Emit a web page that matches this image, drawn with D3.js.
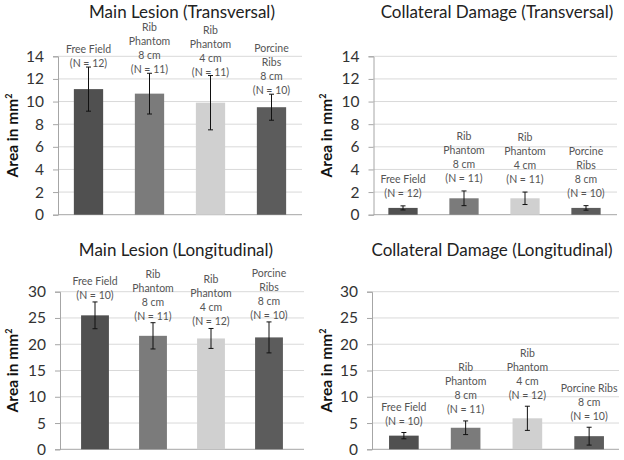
<!DOCTYPE html>
<html><head><meta charset="utf-8">
<script src="https://cdn.jsdelivr.net/npm/d3@7"></script>
<style>body{margin:0;background:#fff} svg{display:block}</style>
</head><body>
<svg id="c" width="624" height="460"></svg>
<script>
// ---- data ----
const titles = ["Main Lesion (Transversal)", "Collateral Damage (Transversal)",
                "Main Lesion (Longitudinal)", "Collateral Damage (Longitudinal)"];
const categories = ["Free Field", "Rib Phantom 8 cm", "Rib Phantom 4 cm", "Porcine Ribs 8 cm"];
const labelLinesA = [["Free Field"], ["Rib", "Phantom", "8 cm"], ["Rib", "Phantom", "4 cm"], ["Porcine", "Ribs", "8 cm"]];
const labelLinesB = [["Free Field"], ["Rib", "Phantom", "8 cm"], ["Rib", "Phantom", "4 cm"], ["Porcine Ribs", "8 cm"]];
const nTransversal = [12, 11, 11, 10];
const nLongitudinal = [10, 11, 12, 10];
const mainTransMean = [11.1, 10.7, 9.9, 9.5];
const mainTransErr  = [1.95, 1.8, 2.4, 1.15];
const collTransMean = [0.6, 1.45, 1.45, 0.6];
const collTransErr  = [0.18, 0.65, 0.55, 0.2];
const mainLongMean  = [25.5, 21.6, 21.1, 21.3];
const mainLongErr   = [2.55, 2.5, 1.9, 2.95];
const collLongMean  = [2.6, 4.1, 5.9, 2.5];
const collLongErr   = [0.6, 1.3, 2.3, 1.7];
const ticksTrans = [0, 2, 4, 6, 8, 10, 12, 14];
const ticksLong = [0, 5, 10, 15, 20, 25, 30];
const barColors = ["#505050", "#7b7b7b", "#d0d0d0", "#5c5c5c"];

// ---- layout ----
const panels = [
  {title: titles[0], mean: mainTransMean, err: mainTransErr, n: nTransversal, lines: labelLinesA, ticks: ticksTrans, max: 14,
   axisX: 58, gridR: 302, band: [58, 302], y: [214.7, 56.3], tx: 182, ty: 18, lx: 14, gap: 4},
  {title: titles[1], mean: collTransMean, err: collTransErr, n: nTransversal, lines: labelLinesA, ticks: ticksTrans, max: 14,
   axisX: 373.5, gridR: 617, band: [372.5, 616.5], y: [214.7, 56.3], tx: 497, ty: 18, lx: 328, gap: 13},
  {title: titles[2], mean: mainLongMean, err: mainLongErr, n: nLongitudinal, lines: labelLinesA, ticks: ticksLong, max: 30,
   axisX: 60, gridR: 304, band: [66, 298], y: [449.3, 291.7], tx: 176, ty: 256, lx: 14, gap: 7},
  {title: titles[3], mean: collLongMean, err: collLongErr, n: nLongitudinal, lines: labelLinesB, ticks: ticksLong, max: 30,
   axisX: 372, gridR: 619, band: [373, 620], y: [449.3, 291.7], tx: 492, ty: 256, lx: 328, gap: 11.5}
];

const svg = d3.select("#c");
const FONT = "Lato, 'Open Sans', sans-serif";

panels.forEach(p => {
  const g = svg.append("g");
  const x = d3.scaleBand().domain(categories).range(p.band).paddingInner(0.52).paddingOuter(0.26);
  const y = d3.scaleLinear().domain([0, p.max]).range(p.y);

  // gridlines
  g.append("g").selectAll("line").data(p.ticks.filter(t => t > 0)).join("line")
    .attr("x1", p.axisX).attr("x2", p.gridR)
    .attr("y1", d => y(d)).attr("y2", d => y(d))
    .attr("stroke", "#d9d9d9").attr("stroke-width", 1);

  // y axis
  const ya = g.append("g").attr("transform", `translate(${p.axisX},0)`)
    .call(d3.axisLeft(y).tickValues(p.ticks).tickSize(5).tickPadding(9).tickFormat(d3.format("d")));
  ya.select(".domain").attr("stroke", "#a6a6a6");
  ya.selectAll(".tick line").attr("stroke", "#a6a6a6");
  ya.selectAll("text").attr("font-family", FONT).attr("font-size", 15.5).attr("fill", "#333");

  // baseline
  g.append("line").attr("x1", p.axisX).attr("x2", p.gridR)
    .attr("y1", y(0)).attr("y2", y(0)).attr("stroke", "#a6a6a6");

  // bars
  g.append("g").selectAll("rect").data(categories).join("rect")
    .attr("x", d => x(d)).attr("width", x.bandwidth())
    .attr("y", (d, i) => y(p.mean[i])).attr("height", (d, i) => y(0) - y(p.mean[i]))
    .attr("fill", (d, i) => barColors[i]);

  // error bars
  const eb = g.append("g").attr("stroke", "#111").attr("stroke-width", 1);
  categories.forEach((c, i) => {
    const cx = x(c) + x.bandwidth() / 2;
    const hi = y(p.mean[i] + p.err[i]), lo = y(p.mean[i] - p.err[i]);
    eb.append("line").attr("x1", cx).attr("x2", cx).attr("y1", hi).attr("y2", lo);
    eb.append("line").attr("x1", cx - 2.5).attr("x2", cx + 2.5).attr("y1", hi).attr("y2", hi);
    eb.append("line").attr("x1", cx - 2.5).attr("x2", cx + 2.5).attr("y1", lo).attr("y2", lo);
  });

  // category labels
  categories.forEach((c, i) => {
    const cx = x(c) + x.bandwidth() / 2;
    const lines = p.lines[i].concat([`(N = ${p.n[i]})`]);
    const lastY = y(p.mean[i] + p.err[i]) - p.gap;
    const t = g.append("text").attr("text-anchor", "middle")
      .attr("font-family", FONT).attr("font-size", 10.5).attr("fill", "#555");
    lines.forEach((l, k) => {
      t.append("tspan").attr("x", cx)
        .attr("y", lastY - (lines.length - 1 - k) * 14 + 4).text(l);
    });
  });

  // title
  g.append("text").attr("x", p.tx).attr("y", p.ty).attr("text-anchor", "middle")
    .attr("font-family", FONT).attr("font-size", 17).attr("fill", "#222").text(p.title);

  // y label
  const ymid = (p.y[0] + p.y[1]) / 2;
  const yl = g.append("text").attr("transform", `translate(${p.lx + 4},${ymid}) rotate(-90)`)
    .attr("text-anchor", "middle").attr("font-family", FONT).attr("font-size", 15.5)
    .attr("font-weight", "bold").attr("fill", "#111");
  yl.append("tspan").text("Area in mm");
  yl.append("tspan").attr("font-size", 9).attr("dy", -6).text("2");
});
</script>
</body></html>
